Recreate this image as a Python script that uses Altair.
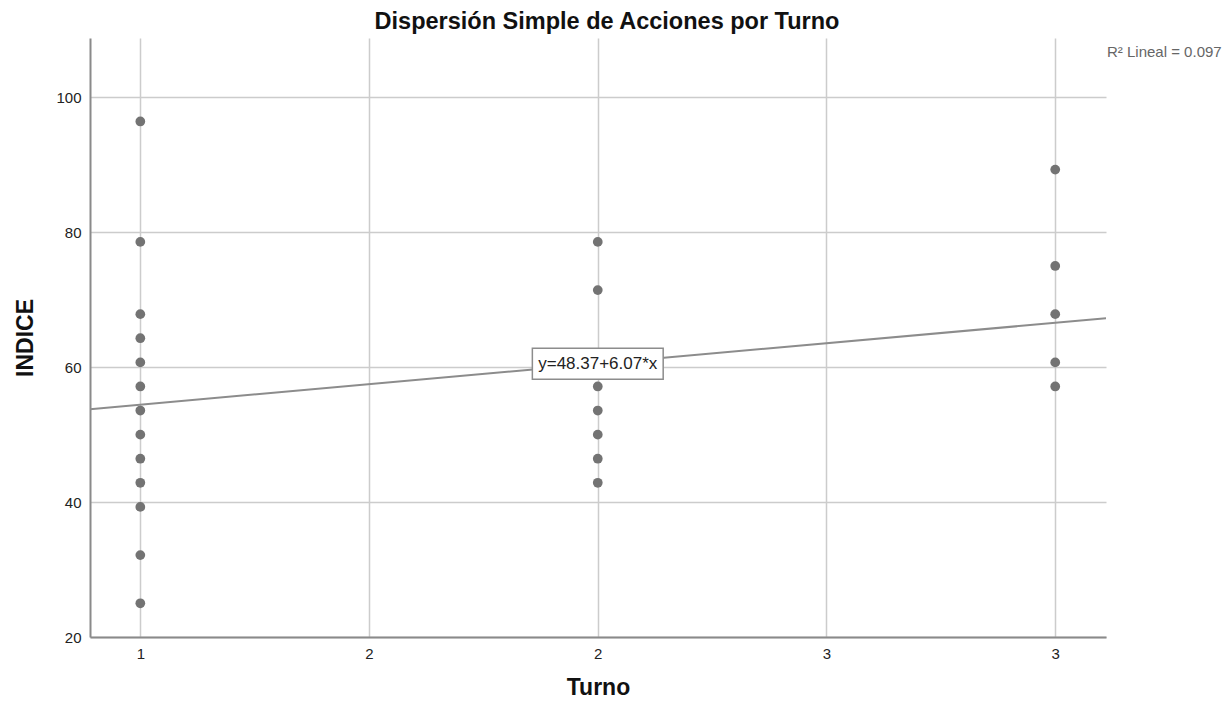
import altair as alt
import pandas as pd

# ---- data ----
turno_1 = [96.43, 78.57, 67.86, 64.29, 60.71, 57.14, 53.57, 50.00, 46.43, 42.86, 39.29, 32.14, 25.00]
turno_2 = [78.57, 71.43, 57.14, 53.57, 50.00, 46.43, 42.86]
turno_3 = [89.29, 75.00, 67.86, 60.71, 57.14]

x_ticks = [1, 1.5, 2, 2.5, 3]
y_ticks = [20, 40, 60, 80, 100]
x_domain = [0.890, 3.111]
y_domain = [20, 108.8]

intercept = 48.37
slope = 6.07
eq_label = "y=48.37+6.07*x"
eq_x = 2
r2_label = "R\u00b2 Lineal = 0.097"
chart_title = "Dispersión Simple de Acciones por Turno"

FONT = "Liberation Sans"

rows = []
for t, vals in ((1, turno_1), (2, turno_2), (3, turno_3)):
    for v in vals:
        rows.append({"Turno": t, "INDICE": v})
pts = pd.DataFrame(rows)

line_df = pd.DataFrame({"Turno": x_domain,
                        "INDICE": [intercept + slope * x for x in x_domain]})

eq_y = intercept + slope * eq_x
box_df = pd.DataFrame({"x1": [eq_x - 0.143], "x2": [eq_x + 0.143],
                       "y1": [eq_y - 2.3], "y2": [eq_y + 2.3],
                       "xc": [eq_x], "yc": [eq_y], "label": [eq_label]})
r2_df = pd.DataFrame({"label": [r2_label]})
title_df = pd.DataFrame({"label": [chart_title]})

xscale = alt.Scale(domain=x_domain, nice=False, zero=False)
yscale = alt.Scale(domain=y_domain, nice=False, zero=False)

xaxis = alt.Axis(values=x_ticks, labelExpr="round(datum.value)", title="Turno",
                 titleX=508, titleY=57, titleBaseline="alphabetic", titleAlign="center",
                 titleAngle=0)
yaxis = alt.Axis(values=y_ticks, title="INDICE",
                 titleX=-58, titleY=299.5, titleBaseline="alphabetic", titleAlign="center",
                 titleAngle=-90)

points = alt.Chart(pts).mark_circle(size=95, color="#737373", opacity=1).encode(
    x=alt.X("Turno:Q", scale=xscale, axis=xaxis),
    y=alt.Y("INDICE:Q", scale=yscale, axis=yaxis),
)

reg = alt.Chart(line_df).mark_line(color="#8c8c8c", strokeWidth=2, clip=True).encode(
    x=alt.X("Turno:Q", scale=xscale),
    y=alt.Y("INDICE:Q", scale=yscale),
)

box = alt.Chart(box_df).mark_rect(fill="white", stroke="#8c8c8c", strokeWidth=1.5).encode(
    x=alt.X("x1:Q", scale=xscale), x2="x2:Q",
    y=alt.Y("y1:Q", scale=yscale), y2="y2:Q",
)

eq_text = alt.Chart(box_df).mark_text(font=FONT, fontSize=17, color="#222222",
                                      align="center", baseline="middle").encode(
    x=alt.X("xc:Q", scale=xscale), y=alt.Y("yc:Q", scale=yscale), text="label:N"
)

r2_text = alt.Chart(r2_df).mark_text(font=FONT, fontSize=15, color="#666666",
                                     align="left", baseline="alphabetic").encode(
    x=alt.value(1017), y=alt.value(19), text="label:N"
)

title_text = alt.Chart(title_df).mark_text(font=FONT, fontSize=23.5, fontWeight="bold",
                                           color="#111111", align="center",
                                           baseline="alphabetic").encode(
    x=alt.value(517), y=alt.value(-9), text="label:N"
)

chart = alt.layer(reg, points, box, eq_text, r2_text, title_text).properties(
    width=1016, height=599,
    autosize=alt.AutoSizeParams(type="none"),
    padding={"left": 82, "top": 30, "right": 118, "bottom": 63},
    background="white",
).configure_view(stroke=None).configure_axis(
    grid=True, gridColor="#cccccc", gridWidth=1.5,
    domainColor="#8a8a8a", domainWidth=2, ticks=False,
    labelFont=FONT, labelFontSize=15, labelColor="#222222", labelPadding=9,
    titleFont=FONT, titleFontSize=23, titleFontWeight="bold", titleColor="#111111",
)

chart.save("out.html", embed_options={"renderer": "svg", "actions": False})
